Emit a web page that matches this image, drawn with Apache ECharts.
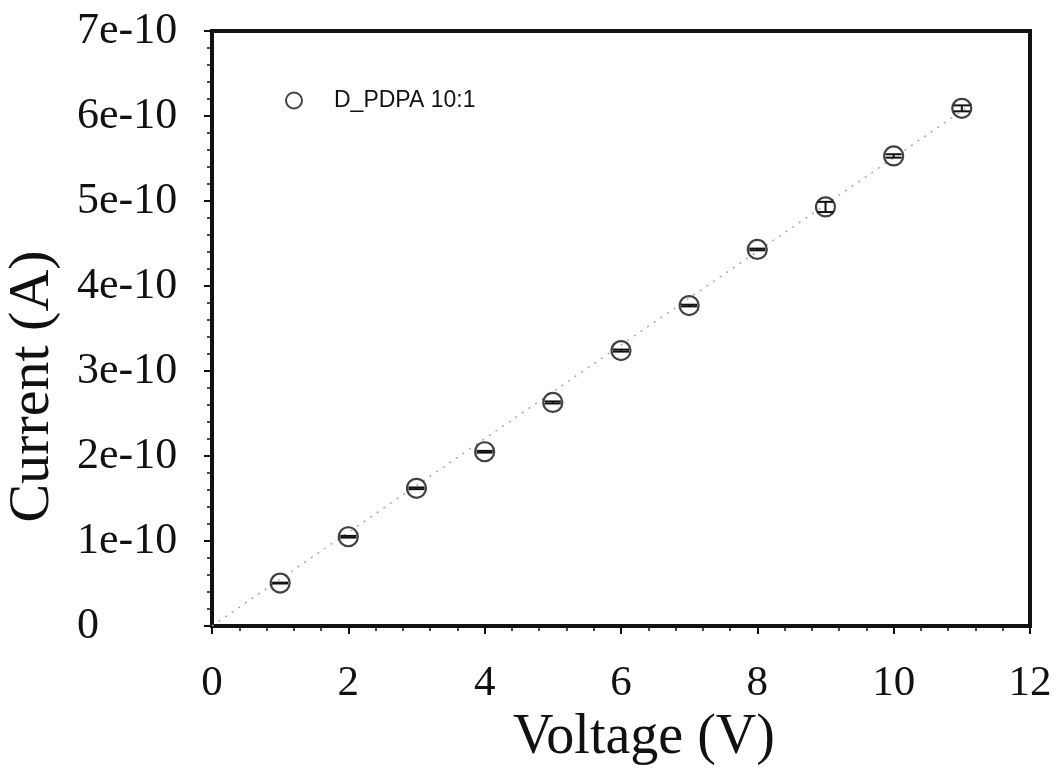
<!DOCTYPE html>
<html>
<head>
<meta charset="utf-8">
<script src="https://cdn.jsdelivr.net/npm/echarts@6/dist/echarts.min.js"></script>
<style>
  html, body { margin: 0; padding: 0; background: #fff; }
  #chart { width: 1054px; height: 779px; }
</style>
</head>
<body>
<div id="chart"></div>
<script>
const voltage = [1, 2, 3, 4, 5, 6, 7, 8, 9, 10, 11];
const current = [0.505e-10, 1.05e-10, 1.62e-10, 2.05e-10, 2.63e-10, 3.24e-10, 3.77e-10, 4.43e-10, 4.93e-10, 5.53e-10, 6.09e-10];
const currentErr = [0.005e-10, 0.01e-10, 0.01e-10, 0.01e-10, 0.012e-10, 0.012e-10, 0.01e-10, 0.01e-10, 0.06e-10, 0.02e-10, 0.035e-10];

// dotted linear fit
const fitVoltage = [0, 11.2];
const fitCurrent = [0, 6.17e-10];

const xTickLabels = ['0', '2', '4', '6', '8', '10', '12'];
const yTickLabels = ['0', '1e-10', '2e-10', '3e-10', '4e-10', '5e-10', '6e-10', '7e-10'];

const seriesName = 'D_PDPA 10:1';
const ink = '#111';

const chart = echarts.init(document.getElementById('chart'));

const option = {
  backgroundColor: '#fff',
  animation: false,
  grid: {
    left: 212,
    right: 24,
    top: 31,
    bottom: 153,
    containLabel: false,
    outerBoundsMode: 'none',
    show: true,
    borderColor: ink,
    borderWidth: 4,
    backgroundColor: 'transparent'
  },
  legend: {
    data: [seriesName],
    left: 280,
    top: 84,
    orient: 'vertical',
    itemWidth: 16,
    itemHeight: 16,
    itemStyle: { color: 'transparent', borderColor: ink, borderWidth: 2 },
    textStyle: { fontFamily: 'Liberation Sans', fontSize: 23, color: ink, padding: [0, 0, 0, 27] }
  },
  xAxis: {
    type: 'value',
    min: 0,
    max: 12,
    interval: 2,
    name: 'Voltage (V)',
    nameLocation: 'middle',
    nameGap: 84,
    nameTextStyle: { fontFamily: 'Liberation Serif', fontSize: 56, color: ink, padding: [0, 0, 0, 46] },
    axisLine: { show: true, onZero: false, lineStyle: { color: ink, width: 4 } },
    axisTick: { show: true, inside: false, length: 8, lineStyle: { color: ink, width: 2 } },
    minorTick: { show: true, splitNumber: 5, length: 5, lineStyle: { color: ink, width: 1.5 } },
    splitLine: { show: false },
    axisLabel: {
      margin: 36,
      fontFamily: 'Liberation Serif',
      fontSize: 43,
      color: ink,
      formatter: v => xTickLabels[Math.round(v / 2)]
    }
  },
  yAxis: {
    type: 'value',
    min: 0,
    max: 7e-10,
    interval: 1e-10,
    name: 'Current (A)',
    nameLocation: 'middle',
    nameGap: 150,
    nameRotate: 90,
    nameTextStyle: { fontFamily: 'Liberation Serif', fontSize: 58, color: ink, padding: [0, 116, 0, 0] },
    axisLine: { show: true, onZero: false, lineStyle: { color: ink, width: 4 } },
    axisTick: { show: true, inside: false, length: 8, lineStyle: { color: ink, width: 2 } },
    minorTick: { show: true, splitNumber: 5, length: 5, lineStyle: { color: ink, width: 1.5 } },
    splitLine: { show: false },
    axisLabel: {
      margin: 135,
      align: 'left',
      fontFamily: 'Liberation Serif',
      fontSize: 44,
      color: ink,
      padding: [6, 0, 0, 0],
      formatter: v => yTickLabels[Math.round(v / 1e-10)]
    }
  },
  series: [
    {
      name: 'fit',
      type: 'line',
      data: fitVoltage.map((v, i) => [v, fitCurrent[i]]),
      showSymbol: false,
      silent: true,
      lineStyle: { color: '#a8a8a8', width: 1.5, type: [2, 6] },
      z: 1
    },
    {
      name: seriesName,
      type: 'scatter',
      data: voltage.map((v, i) => [v, current[i]]),
      symbol: 'circle',
      symbolSize: 19,
      itemStyle: { color: 'transparent', borderColor: ink, borderWidth: 2.2 },
      z: 3
    },
    {
      name: 'error',
      type: 'custom',
      silent: true,
      data: voltage.map((v, i) => [v, current[i], currentErr[i]]),
      renderItem: (params, api) => {
        const x = api.value(0);
        const y = api.value(1);
        const e = api.value(2);
        const top = api.coord([x, y + e]);
        const bot = api.coord([x, y - e]);
        const hw = 8;
        const style = { stroke: ink, lineWidth: 2 };
        return {
          type: 'group',
          children: [
            { type: 'line', shape: { x1: top[0], y1: top[1], x2: bot[0], y2: bot[1] }, style },
            { type: 'line', shape: { x1: top[0] - hw, y1: top[1], x2: top[0] + hw, y2: top[1] }, style },
            { type: 'line', shape: { x1: bot[0] - hw, y1: bot[1], x2: bot[0] + hw, y2: bot[1] }, style }
          ]
        };
      },
      z: 4
    }
  ]
};

chart.setOption(option);
</script>
</body>
</html>
